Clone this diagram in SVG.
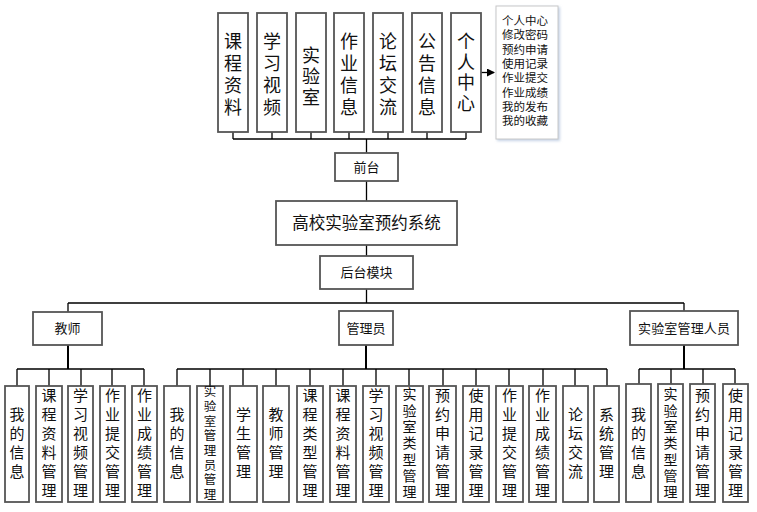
<svg xmlns="http://www.w3.org/2000/svg" width="757" height="512" viewBox="0 0 757 512">
<defs>
<marker id="arr" markerWidth="8" markerHeight="8" refX="7" refY="4" orient="auto" markerUnits="userSpaceOnUse">
<path d="M0,0 L8,4 L0,8 Z" fill="#000"/>
</marker>
<filter id="sh" x="-10%" y="-10%" width="130%" height="130%">
<feDropShadow dx="1.5" dy="1.5" stdDeviation="1.2" flood-color="#b8c8e0" flood-opacity="0.8"/>
</filter>
</defs>
<style>
text{font-family:"Noto Sans CJK SC","Microsoft YaHei",sans-serif;fill:#111;}
.box{fill:#fff;stroke:#555;stroke-width:1.8;}
.ln{stroke:#000;stroke-width:1.3;fill:none;}
.thk{stroke:#000;stroke-width:2;fill:none;}
.v{writing-mode:vertical-rl;text-anchor:middle;}
.v18{font-size:18px;letter-spacing:4px;}
.v15{font-size:15px;letter-spacing:4px;}
.v14{font-size:14px;letter-spacing:2.3px;}
.v12{font-size:12.5px;letter-spacing:2.2px;}
.lbl{font-size:13px;text-anchor:middle;}
.lst{font-size:11.5px;font-family:"Liberation Sans","Noto Sans CJK SC",sans-serif;}
</style>
<rect width="757" height="512" fill="#fff"/>

<g id="connectors">
<path class="ln" d="M233,132 V139 M272,132 V139 M311,132 V139 M349,132 V139 M388,132 V139 M427,132 V139 M466,132 V139 M233,139 H466 M366.5,139 V153"/>
<path class="ln" d="M481,72.5 H494" marker-end="url(#arr)"/>
<path class="ln" d="M366.5,181 V201 M366.5,245 V256 M366.5,289 V303 M68,303 H684 M68,303 V312 M684,303 V311"/>
<path class="thk" d="M68,345 V369 M366,345 V369 M684,345 V369"/>
<path class="ln" d="M17,369 H144 M17,369 V386 M49,369 V386 M81,369 V386 M112,369 V386 M144,369 V386"/>
<path class="ln" d="M177,369 H607 M177,369 V386 M210,369 V386 M243,369 V386 M276,369 V386 M310,369 V386 M343,369 V386 M376,369 V386 M409,369 V386 M443,369 V386 M476,369 V386 M509,369 V386 M543,369 V386 M575,369 V386 M607,369 V386"/>
<path class="ln" d="M639,369 H735 M639,369 V384 M671,369 V384 M703,369 V384 M735,369 V384"/>
</g>

<g id="kczl"><rect class="box" x="218" y="13" width="30" height="119"/><text class="v v18" x="233" y="76">课程资料</text></g>
<g id="xxsp"><rect class="box" x="257" y="13" width="30" height="119"/><text class="v v18" x="272" y="76">学习视频</text></g>
<g id="sys"><rect class="box" x="296" y="13" width="30" height="119"/><text class="v v18" x="311" y="77.5" style="letter-spacing:3px">实验室</text></g>
<g id="zyxx"><rect class="box" x="334" y="13" width="30" height="119"/><text class="v v18" x="349" y="76">作业信息</text></g>
<g id="ltjl"><rect class="box" x="373" y="13" width="30" height="119"/><text class="v v18" x="388" y="76">论坛交流</text></g>
<g id="ggxx"><rect class="box" x="412" y="13" width="30" height="119"/><text class="v v18" x="427" y="76">公告信息</text></g>
<g id="grzx"><rect class="box" x="451" y="13" width="30" height="119"/><text class="v v18" x="466" y="73.5" style="letter-spacing:2.5px">个人中心</text></g>

<g id="grzx-list">
<rect x="496" y="6" width="62" height="133" fill="#fff" stroke="#c8c8c8" stroke-width="1" filter="url(#sh)"/>
<text class="lst"><tspan x="502" y="25">个人中心</tspan><tspan x="502" y="39.3">修改密码</tspan><tspan x="502" y="53.6">预约申请</tspan><tspan x="502" y="67.9">使用记录</tspan><tspan x="502" y="82.2">作业提交</tspan><tspan x="502" y="96.5">作业成绩</tspan><tspan x="502" y="110.8">我的发布</tspan><tspan x="502" y="125.1">我的收藏</tspan></text>
</g>

<g id="qiantai"><rect class="box" x="335" y="153" width="63" height="28"/><text class="lbl" x="366.5" y="171.5" font-size="12">前台</text></g>
<g id="main"><rect class="box" x="276" y="201" width="181" height="44"/><text x="366.5" y="229" font-size="16.5" text-anchor="middle">高校实验室预约系统</text></g>
<g id="houtai"><rect class="box" x="320" y="256" width="93" height="33"/><text class="lbl" x="366.5" y="277" font-size="12.5">后台模块</text></g>

<g id="teacher"><rect class="box" x="33" y="312" width="69" height="33"/><text class="lbl" x="67.5" y="333">教师</text></g>
<g id="admin"><rect class="box" x="339" y="311" width="54" height="34"/><text class="lbl" x="366" y="333">管理员</text></g>
<g id="labmgr"><rect class="box" x="630" y="311" width="108" height="34"/><text class="lbl" x="684" y="333" textLength="92" lengthAdjust="spacing">实验室管理人员</text></g>

<g id="t1"><rect class="box" x="5" y="386" width="24" height="116"/><text class="v v15" x="17" y="445">我的信息</text></g>
<g id="t2"><rect class="box" x="36" y="386" width="26" height="116"/><text class="v v15" x="49" y="445">课程资料管理</text></g>
<g id="t3"><rect class="box" x="68" y="386" width="25" height="116"/><text class="v v15" x="80.5" y="445">学习视频管理</text></g>
<g id="t4"><rect class="box" x="100" y="386" width="25" height="116"/><text class="v v15" x="112.5" y="445">作业提交管理</text></g>
<g id="t5"><rect class="box" x="132" y="386" width="25" height="116"/><text class="v v15" x="144.5" y="445">作业成绩管理</text></g>

<g id="a1"><rect class="box" x="164" y="386" width="26" height="116"/><text class="v v15" x="177" y="445">我的信息</text></g>
<g id="a2"><rect class="box" x="197" y="386" width="26" height="116"/><text class="v v12" x="210" y="444.1">实验室管理员管理</text></g>
<g id="a3"><rect class="box" x="230" y="386" width="27" height="116"/><text class="v v15" x="243.5" y="445">学生管理</text></g>
<g id="a4"><rect class="box" x="263" y="386" width="26" height="116"/><text class="v v15" x="276" y="445">教师管理</text></g>
<g id="a5"><rect class="box" x="297" y="386" width="26" height="116"/><text class="v v15" x="310" y="445">课程类型管理</text></g>
<g id="a6"><rect class="box" x="330" y="386" width="26" height="116"/><text class="v v15" x="343" y="445">课程资料管理</text></g>
<g id="a7"><rect class="box" x="363" y="386" width="26" height="116"/><text class="v v15" x="376" y="445">学习视频管理</text></g>
<g id="a8"><rect class="box" x="396" y="386" width="27" height="116"/><text class="v v14" x="409.5" y="444.2">实验室类型管理</text></g>
<g id="a9"><rect class="box" x="429" y="386" width="27" height="116"/><text class="v v15" x="442.5" y="445">预约申请管理</text></g>
<g id="a10"><rect class="box" x="463" y="386" width="26" height="116"/><text class="v v15" x="476" y="445">使用记录管理</text></g>
<g id="a11"><rect class="box" x="496" y="386" width="27" height="116"/><text class="v v15" x="509.5" y="445">作业提交管理</text></g>
<g id="a12"><rect class="box" x="529" y="386" width="27" height="116"/><text class="v v15" x="542.5" y="445">作业成绩管理</text></g>
<g id="a13"><rect class="box" x="563" y="386" width="25" height="116"/><text class="v v15" x="575.5" y="445">论坛交流</text></g>
<g id="a14"><rect class="box" x="594" y="386" width="25" height="116"/><text class="v v15" x="606.5" y="445">系统管理</text></g>

<g id="l1"><rect class="box" x="626" y="384" width="25" height="118"/><text class="v v15" x="638.5" y="445">我的信息</text></g>
<g id="l2"><rect class="box" x="658" y="384" width="25" height="118"/><text class="v v14" x="670.5" y="444.2">实验室类型管理</text></g>
<g id="l3"><rect class="box" x="690" y="384" width="25" height="118"/><text class="v v15" x="702.5" y="445">预约申请管理</text></g>
<g id="l4"><rect class="box" x="723" y="384" width="25" height="118"/><text class="v v15" x="735.5" y="445">使用记录管理</text></g>
</svg>
